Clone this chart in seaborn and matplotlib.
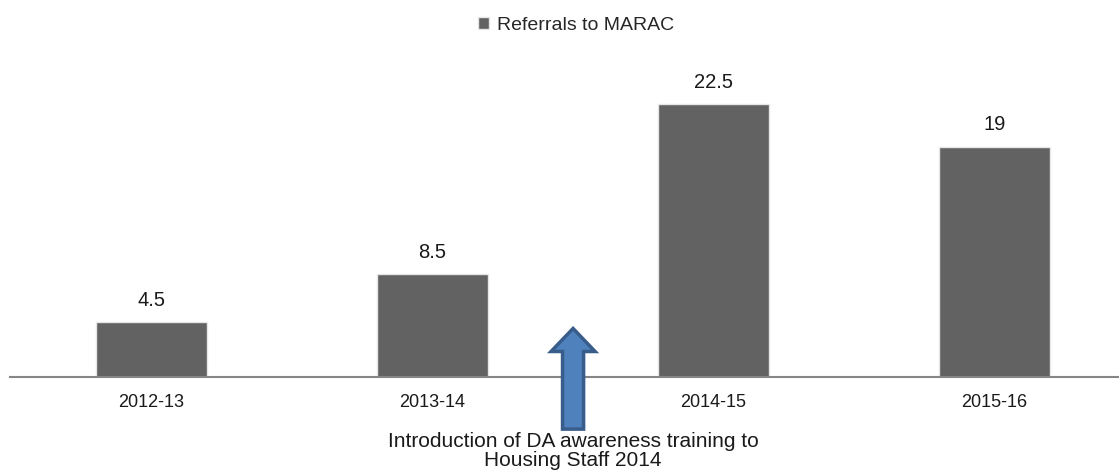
import matplotlib
matplotlib.use("Agg")
import matplotlib.pyplot as plt
import pandas as pd
import seaborn as sns

# =========================
# DATA
# =========================
years = ["2012-13", "2013-14", "2014-15", "2015-16"]
referrals = [4.5, 8.5, 22.5, 19]
value_labels = ["4.5", "8.5", "22.5", "19"]
series_name = "Referrals to MARAC"
note = "Introduction of DA awareness training to\nHousing Staff 2014"

BAR_COLOR = "#626262"
ARROW_FILL = "#4F81BD"
ARROW_EDGE = "#385D8A"

sns.set_theme(style="white")
plt.rcParams["font.family"] = ["Liberation Sans", "DejaVu Sans"]

df = pd.DataFrame({"year": years, "referrals": referrals})

fig = plt.figure(figsize=(11.19, 4.73), dpi=100)
ax = fig.add_axes([10 / 1119, 0.203, 1109 / 1119, 0.641])

sns.barplot(
    data=df,
    x="year",
    y="referrals",
    color=BAR_COLOR,
    width=0.395,
    saturation=1,
    edgecolor="#e6e6e6",
    linewidth=1.0,
    label=series_name,
    ax=ax,
)

ax.set_xlim(-0.504, 3.443)
ax.set_ylim(0, 25)

# value labels above bars
for i, (v, lab) in enumerate(zip(referrals, value_labels)):
    ax.text(i, v + 1.0, lab, ha="center", va="bottom", fontsize=14.5, color="#1a1a1a")

# axes styling
for side in ["top", "right", "left"]:
    ax.spines[side].set_visible(False)
ax.spines["bottom"].set_color("#868686")
ax.spines["bottom"].set_linewidth(1.5)
ax.set_yticks([])
ax.set_xlabel("")
ax.set_ylabel("")
ax.tick_params(axis="x", length=0, labelsize=13, pad=12, colors="#1a1a1a")

# arrow marking the training introduction
ax.arrow(
    1.5, -4.3, 0, 8.3,
    width=0.075,
    head_width=0.157,
    head_length=1.9,
    length_includes_head=True,
    fc=ARROW_FILL,
    ec=ARROW_EDGE,
    lw=2.5,
    clip_on=False,
    zorder=5,
)
ax.text(1.5, -4.55, note, ha="center", va="top", fontsize=15,
        color="#1a1a1a", linespacing=1.02, clip_on=False)

# legend on top
ax.legend(
    loc="upper center",
    bbox_to_anchor=(0.515, 0.985),
    bbox_transform=fig.transFigure,
    frameon=False,
    fontsize=14,
    borderaxespad=0.2,
    borderpad=0.3,
    handlelength=0.55,
    handleheight=0.55,
    handletextpad=0.4,
)

fig.savefig("out.png", dpi=100)
